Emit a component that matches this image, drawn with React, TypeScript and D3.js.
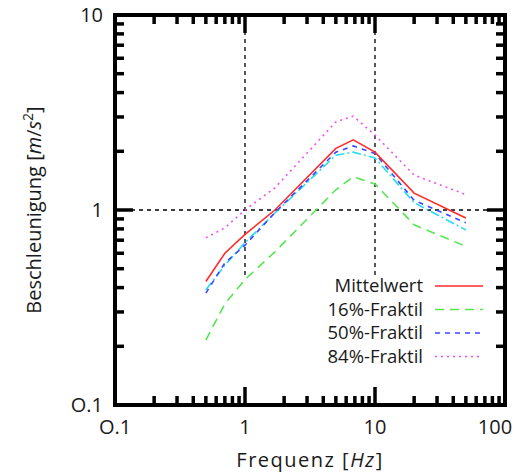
import React from 'react';
import * as d3 from 'd3';

// frequencies (Hz) and acceleration values (m/s^2)
const freq = [0.5, 0.7, 1, 1.7, 5, 6.8, 10, 20, 50];
const mittelwert = [0.43, 0.6, 0.75, 1.0, 2.07, 2.29, 1.98, 1.22, 0.91];
const fraktil16 = [0.215, 0.33, 0.44, 0.61, 1.27, 1.48, 1.36, 0.84, 0.65];
const fraktil50 = [0.375, 0.535, 0.66, 0.97, 1.98, 2.13, 1.95, 1.12, 0.86];
const fraktil84 = [0.72, 0.81, 1.0, 1.3, 2.83, 3.03, 2.42, 1.51, 1.2];
const unlabeled = [0.39, 0.52, 0.68, 0.965, 1.91, 1.98, 1.85, 1.09, 0.79];

const xTickLabels = ['O.1', '1', '10', '100'];
const yTickLabels = ['O.1', '1', '10'];
const xMajor = [0.1, 1, 10, 100];
const yMajor = [0.1, 1, 10];

const FONT = '"Open Sans", "DejaVu Sans", sans-serif';

const App = () => {
  const width = 529;
  const height = 475;
  const margin = { top: 15, right: 24, bottom: 70, left: 115 };

  const xScale = d3.scaleLog().domain([0.1, 100]).range([margin.left, width - margin.right]);
  const yScale = d3.scaleLog().domain([0.1, 10]).range([height - margin.bottom, margin.top]);

  const [x0, x1] = xScale.range();
  const [y0, y1] = yScale.range();

  const line = d3.line<[number, number]>()
    .x(d => xScale(d[0]))
    .y(d => yScale(d[1]));

  const pairs = (vals: number[]) => freq.map((f, i) => [f, vals[i]] as [number, number]);

  // minor ticks 2..9 per decade
  const minorX: number[] = [];
  [0.1, 1, 10].forEach(dec => d3.range(2, 10).forEach(k => minorX.push(dec * k)));
  const minorY: number[] = [];
  [0.1, 1].forEach(dec => d3.range(2, 10).forEach(k => minorY.push(dec * k)));

  const series = [
    { name: 'Mittelwert', vals: mittelwert, color: '#ff2a2a', dash: 'none', legend: true },
    { name: '16%-Fraktil', vals: fraktil16, color: '#55e650', dash: '9,6', legend: true },
    { name: '50%-Fraktil', vals: fraktil50, color: '#3c46ff', dash: '5,5', legend: true },
    { name: '84%-Fraktil', vals: fraktil84, color: '#f050f0', dash: '2,4', legend: true },
    { name: 'x', vals: unlabeled, color: '#28dcf0', dash: '9,3,2,3', legend: false },
  ];
  const drawOrder = [4, 2, 1, 3, 0];

  const legendX = 423;
  const legendY = 286;
  const legendStep = 23.5;

  const majorLen = 18;
  const minorLen = 9;
  const txt = '#1a1a1a';

  return (
    <svg width={width} height={height} style={{ position: 'absolute', left: 0, top: 0, background: '#fff' }}
      fontFamily={FONT}>
      <rect x={0} y={0} width={width} height={height} fill="#fff" />

      {/* grid */}
      <line x1={x0} x2={x1} y1={yScale(1)} y2={yScale(1)} stroke="#000" strokeWidth={1.3} strokeDasharray="4,4" />
      {[1, 10].map(v => (
        <line key={v} x1={xScale(v)} x2={xScale(v)} y1={y1} y2={yScale(0.45)}
          stroke="#000" strokeWidth={1.3} strokeDasharray="4,4" />
      ))}

      {/* data lines */}
      {drawOrder.map(i => {
        const s = series[i];
        return (
          <path key={s.name} d={line(pairs(s.vals)) || ''} fill="none" stroke={s.color}
            strokeWidth={1.6} strokeDasharray={s.dash} />
        );
      })}

      {/* legend */}
      {series.filter(s => s.legend).map((s, i) => (
        <g key={s.name}>
          <text x={legendX} y={legendY + i * legendStep} dy="0.35em" textAnchor="end" fontSize={18.5}
            fill={txt}>{s.name}</text>
          <line x1={legendX + 12} x2={legendX + 60} y1={legendY + i * legendStep} y2={legendY + i * legendStep}
            stroke={s.color} strokeWidth={1.6} strokeDasharray={s.dash} />
        </g>
      ))}

      {/* ticks */}
      <g stroke="#000" strokeWidth={3.5}>
        {minorX.map(v => (
          <g key={'mx' + v}>
            <line x1={xScale(v)} x2={xScale(v)} y1={y0} y2={y0 - minorLen} />
            <line x1={xScale(v)} x2={xScale(v)} y1={y1} y2={y1 + minorLen} />
          </g>
        ))}
        {minorY.map(v => (
          <g key={'my' + v}>
            <line x1={x0} x2={x0 + minorLen} y1={yScale(v)} y2={yScale(v)} />
            <line x1={x1} x2={x1 - minorLen} y1={yScale(v)} y2={yScale(v)} />
          </g>
        ))}
        {xMajor.map(v => (
          <g key={'Mx' + v}>
            <line x1={xScale(v)} x2={xScale(v)} y1={y0} y2={y0 - majorLen} />
            <line x1={xScale(v)} x2={xScale(v)} y1={y1} y2={y1 + majorLen} />
          </g>
        ))}
        {yMajor.map(v => (
          <g key={'My' + v}>
            <line x1={x0} x2={x0 + majorLen} y1={yScale(v)} y2={yScale(v)} />
            <line x1={x1} x2={x1 - majorLen} y1={yScale(v)} y2={yScale(v)} />
          </g>
        ))}
      </g>

      {/* frame */}
      <rect x={x0} y={y1} width={x1 - x0} height={y0 - y1} fill="none" stroke="#000" strokeWidth={4} />

      {/* tick labels */}
      {xMajor.map((v, i) => (
        <text key={'lx' + v} x={xScale(v) + (i === xMajor.length - 1 ? -10 : 0)} y={y0 + 22}
          dy="0.35em" textAnchor="middle" fontSize={20} fill={txt}>{xTickLabels[i]}</text>
      ))}
      {yMajor.map((v, i) => (
        <text key={'ly' + v} x={x0 - 12} y={yScale(v)} dy="0.35em" textAnchor="end"
          fontSize={20} fill={txt}>{yTickLabels[i]}</text>
      ))}

      {/* axis titles */}
      <text x={(x0 + x1) / 2} y={y0 + 55} dy="0.35em" textAnchor="middle" fontSize={20} fill={txt}
        letterSpacing={1.5}>
        Frequenz [<tspan fontStyle="italic">Hz</tspan>]
      </text>
      <text transform={`translate(34, ${(y0 + y1) / 2}) rotate(-90)`} dy="0.35em" textAnchor="middle"
        fontSize={20} fill={txt}>
        Beschleunigung [<tspan fontStyle="italic">m</tspan>/<tspan fontStyle="italic">s</tspan>
        <tspan dy={-8} fontSize={14}>2</tspan><tspan dy={8}>]</tspan>
      </text>
    </svg>
  );
};

export default App;
